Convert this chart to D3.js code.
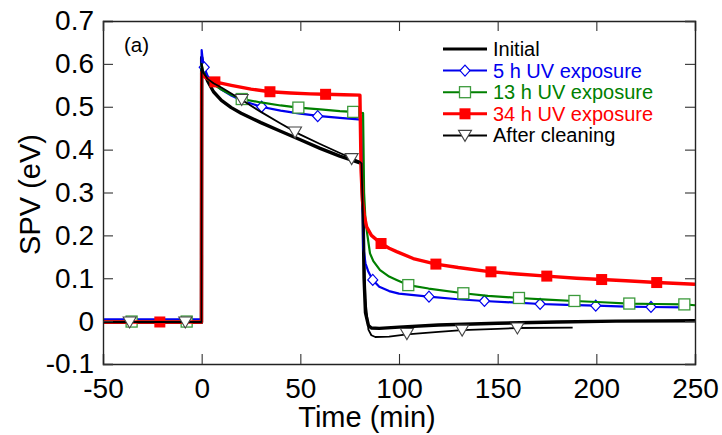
<!DOCTYPE html>
<html><head><meta charset="utf-8">
<script src="https://cdn.jsdelivr.net/npm/d3@7"></script>
<style>body{margin:0;background:#fff}svg{display:block}text{font-family:"Liberation Sans",Arial,sans-serif}</style>
</head><body><svg id="c" width="722" height="435"></svg>
<script>
// ---- data ----
const xTicks = [-50, 0, 50, 100, 150, 200, 250];
const yTicks = [-0.1, 0, 0.1, 0.2, 0.3, 0.4, 0.5, 0.6, 0.7];
const seriesNames = ["Initial", "5 h UV exposure", "13 h UV exposure", "34 h UV exposure", "After cleaning"];

const initialT = [-50, -0.1, 0, 1, 3, 6, 10, 15, 20, 30, 40, 50, 60, 70, 81, 81.8, 82.3, 83, 84.5, 86, 90, 100, 120, 150, 180, 210, 250];
const initialV = [-0.003, -0.003, 0.615, 0.585, 0.56, 0.535, 0.515, 0.498, 0.485, 0.463, 0.443, 0.423, 0.403, 0.385, 0.368, 0.25, 0.10, 0.02, -0.010, -0.016, -0.017, -0.014, -0.009, -0.005, -0.002, 0.000, 0.001];

const uv5T = [-50, -0.1, 0, 0.5, 1.3, 3, 6, 10, 15, 20, 30, 40, 50, 60, 70, 80.9, 81.5, 82, 83, 84.5, 86.7, 90, 95, 100, 115, 130, 143, 160, 171.5, 185, 200, 215, 228, 244];
const uv5V = [0.004, 0.004, 0.632, 0.61, 0.592, 0.572, 0.555, 0.54, 0.526, 0.515, 0.50, 0.491, 0.484, 0.478, 0.474, 0.470, 0.3, 0.17, 0.135, 0.115, 0.096, 0.08, 0.07, 0.064, 0.057, 0.051, 0.047, 0.043, 0.040, 0.038, 0.036, 0.034, 0.033, 0.032];
const uv5MarkT = [1.3, 30.4, 58.8, 86.7, 115.2, 143.3, 171.5, 199.7, 227.7];
const uv5MarkV = [0.592, 0.50, 0.478, 0.096, 0.057, 0.047, 0.040, 0.036, 0.033];

const uv13T = [-50, -0.1, 0, 0.5, 2, 5, 10, 15, 20.3, 30, 40, 49, 60, 70, 76.8, 81.8, 82.3, 83, 84, 85.3, 87, 90.4, 95, 98.8, 104.7, 115, 132.6, 145, 160.8, 175, 188.9, 203, 216.7, 230, 244.6, 250];
const uv13V = [-0.001, -0.001, 0.60, 0.585, 0.57, 0.555, 0.54, 0.528, 0.518, 0.51, 0.503, 0.498, 0.494, 0.49, 0.488, 0.485, 0.3, 0.235, 0.2, 0.158, 0.14, 0.119, 0.104, 0.096, 0.084, 0.076, 0.065, 0.059, 0.054, 0.050, 0.047, 0.044, 0.041, 0.040, 0.039, 0.037];
const uv13MarkT = [-35.5, -7.6, 20.3, 49, 76.8, 104.7, 132.6, 160.8, 188.9, 216.7, 244.6];
const uv13MarkV = [-0.001, -0.001, 0.518, 0.498, 0.488, 0.084, 0.065, 0.054, 0.047, 0.041, 0.039];

const uv34T = [-50, -0.1, 0, 0.5, 2, 4, 6.7, 15, 25, 34.6, 45, 55, 62.8, 72, 80.2, 80.8, 81.5, 82.5, 83.6, 86, 90.9, 95, 98.8, 107.2, 118.7, 130, 146.6, 160, 174.9, 190, 202.7, 215, 230.6, 250];
const uv34V = [-0.002, -0.002, 0.58, 0.575, 0.568, 0.563, 0.558, 0.55, 0.541, 0.535, 0.532, 0.530, 0.529, 0.528, 0.527, 0.35, 0.28, 0.245, 0.22, 0.2, 0.181, 0.17, 0.162, 0.146, 0.133, 0.125, 0.115, 0.11, 0.105, 0.10, 0.097, 0.094, 0.090, 0.086];
const uv34MarkT = [-21.2, 6.7, 34.6, 62.8, 90.9, 118.7, 146.6, 174.9, 202.7, 230.6];
const uv34MarkV = [-0.002, 0.558, 0.535, 0.529, 0.181, 0.133, 0.115, 0.105, 0.097, 0.090];

const cleanT = [-50, -0.1, 0, 1, 3, 6, 10, 20, 30, 40, 50, 60, 70, 80, 81, 82, 83, 84.5, 86, 88, 95, 104, 120, 132, 150, 160, 188];
const cleanV = [-0.002, -0.002, 0.60, 0.578, 0.565, 0.555, 0.545, 0.517, 0.488, 0.461, 0.435, 0.413, 0.392, 0.372, 0.368, 0.2, 0.05, -0.02, -0.033, -0.037, -0.036, -0.031, -0.025, -0.021, -0.018, -0.016, -0.015];
const cleanMarkT = [-36.5, -8.3, 20.3, 47.3, 76, 104, 132, 160];
const cleanMarkV = [-0.002, -0.002, 0.517, 0.441, 0.379, -0.029, -0.021, -0.016];

// ---- layout ----
const svg = d3.select("#c");
const X0 = 103, X1 = 695, Y0 = 21, Y1 = 364;
const x = d3.scaleLinear().domain([-50, 250]).range([X0, X1]);
const y = d3.scaleLinear().domain([-0.1, 0.7]).range([Y1, Y0]);

svg.append("clipPath").attr("id", "clip").append("rect")
  .attr("x", X0).attr("y", Y0).attr("width", X1 - X0).attr("height", Y1 - Y0);

const zip = (t, v) => t.map((d, i) => [d, v[i]]);
const line = d3.line().x(d => x(d[0])).y(d => y(d[1]));

const series = [
  {name: seriesNames[0], t: initialT, v: initialV, color: "#000", w: 3.4, marker: null},
  {name: seriesNames[1], t: uv5T, v: uv5V, color: "#0000ee", w: 2.2, marker: "diamond", mt: uv5MarkT, mv: uv5MarkV},
  {name: seriesNames[2], t: uv13T, v: uv13V, color: "#008000", w: 2.2, marker: "square", mt: uv13MarkT, mv: uv13MarkV},
  {name: seriesNames[3], t: uv34T, v: uv34V, color: "#ff0000", w: 3.4, marker: "fsquare", mt: uv34MarkT, mv: uv34MarkV},
  {name: seriesNames[4], t: cleanT, v: cleanV, color: "#000", w: 1.8, marker: "tri", mt: cleanMarkT, mv: cleanMarkV}
];

function drawMarker(g, type, cx, cy, color) {
  if (type === "diamond") {
    g.append("path").attr("d", `M${cx},${cy-5.5}L${cx+5},${cy}L${cx},${cy+5.5}L${cx-5},${cy}Z`)
      .attr("fill", "#fff").attr("stroke", color).attr("stroke-width", 1.2);
  } else if (type === "square") {
    g.append("rect").attr("x", cx - 5.5).attr("y", cy - 5.5).attr("width", 11).attr("height", 11)
      .attr("fill", "#fff").attr("stroke", "#3c9a3c").attr("stroke-width", 1.3);
  } else if (type === "fsquare") {
    g.append("rect").attr("x", cx - 5.5).attr("y", cy - 5.5).attr("width", 11).attr("height", 11)
      .attr("fill", color).attr("stroke", "none");
  } else if (type === "tri") {
    g.append("path").attr("d", `M${cx-6.5},${cy-5}L${cx+6.5},${cy-5}L${cx},${cy+6}Z`)
      .attr("fill", "#fff").attr("stroke", "#444").attr("stroke-width", 1.1);
  }
}

const plot = svg.append("g").attr("clip-path", "url(#clip)");
series.forEach(s => {
  plot.append("path").datum(zip(s.t, s.v)).attr("d", line)
    .attr("fill", "none").attr("stroke", s.color).attr("stroke-width", s.w)
    .attr("stroke-linejoin", "round");
  if (s.marker) {
    const mg = plot.append("g");
    s.mt.forEach((t, i) => drawMarker(mg, s.marker, x(t), y(s.mv[i]), s.color));
  }
});

// ---- axes (ticks inward on all four sides) ----
const hy = s => s.replace("\u2212", "-");
const axG = svg.append("g");
const axBottom = d3.axisBottom(x).tickValues(xTicks).tickSize(-10).tickPadding(14)
  .tickFormat(d => hy(d3.format("d")(d)));
const axLeft = d3.axisLeft(y).tickValues(yTicks).tickSize(-10).tickPadding(9)
  .tickFormat(d => Math.abs(d) < 1e-9 ? "0" : hy(d3.format(".1f")(d)));
const axTop = d3.axisTop(x).tickValues(xTicks).tickSize(-10).tickFormat("");
const axRight = d3.axisRight(y).tickValues(yTicks).tickSize(-10).tickFormat("");

function style(g) {
  g.select(".domain").attr("stroke", "#222").attr("stroke-width", 1.4);
  g.selectAll(".tick line").attr("stroke", "#333").attr("stroke-width", 1.1);
  g.selectAll(".tick text").attr("fill", "#000").style("font-size", "28px")
    .style("font-family", '"Liberation Sans",Arial,sans-serif');
}
axG.append("g").attr("transform", `translate(0,${Y1})`).call(axBottom).call(style);
axG.append("g").attr("transform", `translate(${X0},0)`).call(axLeft).call(style);
axG.append("g").attr("transform", `translate(0,${Y0})`).call(axTop).call(style);
axG.append("g").attr("transform", `translate(${X1},0)`).call(axRight).call(style);

// axis titles
svg.append("text").attr("x", (X0 + X1) / 2 - 32).attr("y", 427).attr("text-anchor", "middle")
  .style("font-size", "29px").text("Time (min)");
svg.append("text").attr("transform", `translate(40,${(Y0 + Y1) / 2 + 2}) rotate(-90)`)
  .attr("text-anchor", "middle").style("font-size", "29px").text("SPV (eV)");

// panel label
svg.append("text").attr("x", 124).attr("y", 52).style("font-size", "20.5px").text("(a)");

// ---- legend ----
const lg = svg.append("g");
series.forEach((s, i) => {
  const ly = 49 + i * 21.6;
  lg.append("line").attr("x1", 443).attr("x2", 487).attr("y1", ly).attr("y2", ly)
    .attr("stroke", s.color).attr("stroke-width", i === 0 ? 3.2 : (i === 3 ? 3 : 2));
  if (s.marker) drawMarker(lg, s.marker, 465, ly, s.color);
  lg.append("text").attr("x", 493).attr("y", ly + 7).style("font-size", "20px")
    .attr("fill", s.color).text(s.name);
});
</script></body></html>
